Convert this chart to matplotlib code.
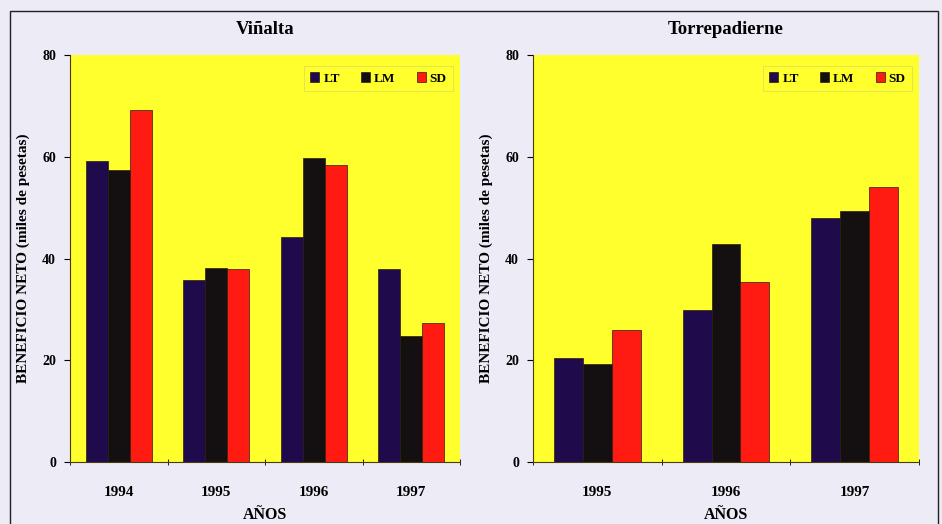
import numpy as np
import matplotlib.pyplot as plt
from matplotlib.patches import Rectangle

# beneficio neto (miles de pesetas) por sistema de laboreo
series = ['LT', 'LM', 'SD']
colors = ['#1f0a4c', '#141012', '#ff1a12']

vinalta_years = ['1994', '1995', '1996', '1997']
vinalta_lt = [59.2, 35.8, 44.3, 38.0]
vinalta_lm = [57.4, 38.1, 59.8, 24.8]
vinalta_sd = [69.2, 37.9, 58.3, 27.4]

torre_years = ['1995', '1996', '1997']
torre_lt = [20.5, 29.9, 47.9]
torre_lm = [19.2, 42.8, 49.3]
torre_sd = [25.9, 35.3, 54.0]

plt.rcParams['font.family'] = ['Liberation Serif', 'DejaVu Serif']
plt.rcParams['font.weight'] = 'bold'

fig = plt.figure(figsize=(9.42, 5.24), dpi=100)
fig.patch.set_facecolor('#ecebf6')

# outer frame
fig.patches.append(Rectangle((10 / 942, -0.05), 928 / 942, 1.05 - 11 / 524,
                             transform=fig.transFigure, fill=False,
                             edgecolor='#222222', linewidth=1.0))


def panel(rect, title, years, lt, lm, sd):
    ax = fig.add_axes(rect)
    ax.set_facecolor('#ffff2e')
    x = np.arange(len(years))
    w = 0.225
    for i, (vals, c, name) in enumerate(zip([lt, lm, sd], colors, series)):
        ax.bar(x + (i - 1) * w, vals, width=w, color=c, label=name,
               edgecolor='#2a1a10', linewidth=0.5)
    ax.set_xlim(-0.5, len(years) - 0.5)
    ax.set_ylim(0, 80)
    ax.set_yticks([0, 20, 40, 60, 80])
    ax.set_xticks(x)
    ax.set_xticklabels(years)
    ax.set_xticks(np.arange(len(years) + 1) - 0.5, minor=True)
    ax.tick_params(axis='x', which='major', length=0, pad=17, labelsize=11)
    ax.tick_params(axis='x', which='minor', length=4, direction='inout')
    ax.tick_params(axis='y', length=4, labelsize=10, pad=6)
    for s in ['top', 'right']:
        ax.spines[s].set_visible(False)
    ax.spines['left'].set_color('#4a3a10')
    ax.spines['bottom'].set_color('#4a3a10')
    ax.set_title(title, fontsize=13.5, fontweight='bold', pad=15)
    ax.set_xlabel('AÑOS', fontsize=11.5, fontweight='bold', labelpad=6)
    ax.set_ylabel('BENEFICIO NETO (miles de pesetas)', fontsize=11,
                  fontweight='bold', labelpad=9)
    leg = ax.legend(loc='upper right', ncol=3, fontsize=9.5, frameon=True,
                    handlelength=0.7, handleheight=0.7, handletextpad=0.3,
                    columnspacing=1.6, borderpad=0.5, fancybox=False,
                    bbox_to_anchor=(1.0, 0.99))
    leg.get_frame().set_facecolor('#ffff2e')
    leg.get_frame().set_edgecolor('#d8d860')
    leg.get_frame().set_linewidth(0.6)
    return ax


panel([70 / 942, 62 / 524, 390 / 942, 407 / 524], 'Viñalta',
      vinalta_years, vinalta_lt, vinalta_lm, vinalta_sd)
panel([533 / 942, 62 / 524, 386 / 942, 407 / 524], 'Torrepadierne',
      torre_years, torre_lt, torre_lm, torre_sd)

fig.savefig('out.png', dpi=100, facecolor=fig.get_facecolor())
